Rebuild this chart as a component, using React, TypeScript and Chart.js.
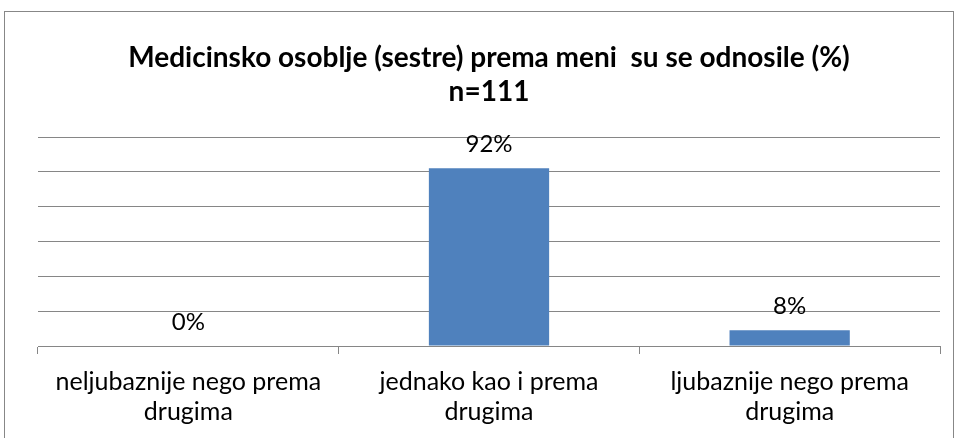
import React, { useEffect, useRef } from "react";
import { Chart, registerables } from "chart.js";

Chart.register(...registerables);

const categories: string[][] = [
  ["neljubaznije nego prema", "drugima"],
  ["jednako kao i prema", "drugima"],
  ["ljubaznije nego prema", "drugima"],
];
const counts: number[] = [0, 102, 9];
const percentLabels: string[] = ["0%", "92%", "8%"];
const titleLines: string[] = [
  "Medicinsko osoblje (sestre) prema meni  su se odnosile (%)",
  "n=111",
];
const yMax = 120;
const yStep = 20;

const FONT = "Lato, 'Open Sans', sans-serif";

const valueLabelPlugin = {
  id: "valueLabels",
  afterDatasetsDraw(chart: any) {
    const ctx = chart.ctx;
    const meta = chart.getDatasetMeta(0);
    ctx.save();
    ctx.font = `24px ${FONT}`;
    ctx.fillStyle = "#000";
    ctx.textAlign = "center";
    ctx.textBaseline = "middle";
    meta.data.forEach((bar: any, i: number) => {
      ctx.fillText(percentLabels[i], bar.x, bar.y - 24);
    });
    ctx.restore();
  },
};

export default function App() {
  const ref = useRef<HTMLCanvasElement>(null);
  useEffect(() => {
    if (!ref.current) return;
    const chart = new Chart(ref.current, {
      type: "bar",
      data: {
        labels: categories,
        datasets: [
          {
            data: counts,
            backgroundColor: "#4F81BD",
            borderWidth: 0,
            barPercentage: 0.4,
            categoryPercentage: 1,
          },
        ],
      },
      options: {
        animation: false,
        responsive: false,
        layout: { padding: { top: 41, left: 38, right: 19, bottom: 0 } },
        plugins: {
          legend: { display: false },
          tooltip: { enabled: false },
          title: {
            display: true,
            text: titleLines,
            color: "#000",
            font: { family: FONT, size: 28, weight: "bold", lineHeight: 34 / 28 },
            padding: { top: 0, bottom: 28 },
          },
        },
        scales: {
          x: {
            afterFit: (scale: any) => {
              scale.height = 92;
            },
            grid: {
              offset: true,
              drawOnChartArea: false,
              drawTicks: true,
              tickLength: 8,
              color: "#868686",
            },
            border: { display: true, color: "#868686", width: 1 },
            ticks: {
              color: "#000",
              font: { family: FONT, size: 25, lineHeight: 1.2 },
              padding: 13,
              maxRotation: 0,
              autoSkip: false,
            },
          },
          y: {
            min: 0,
            max: yMax,
            ticks: { display: false, stepSize: yStep },
            grid: { color: "#868686", drawTicks: false },
            border: { display: false },
          },
        },
      },
      plugins: [valueLabelPlugin],
    });
    return () => chart.destroy();
  }, []);
  return (
    <div style={{ position: "fixed", left: 0, top: 0, width: 959, height: 438, background: "#fff" }}>
      <div
        style={{
          position: "absolute",
          left: 4,
          top: 11,
          width: 950,
          height: 440,
          border: "1px solid #878787",
          boxSizing: "border-box",
        }}
      />
      <canvas ref={ref} width={959} height={438} style={{ position: "absolute", left: 0, top: 0 }} />
    </div>
  );
}
